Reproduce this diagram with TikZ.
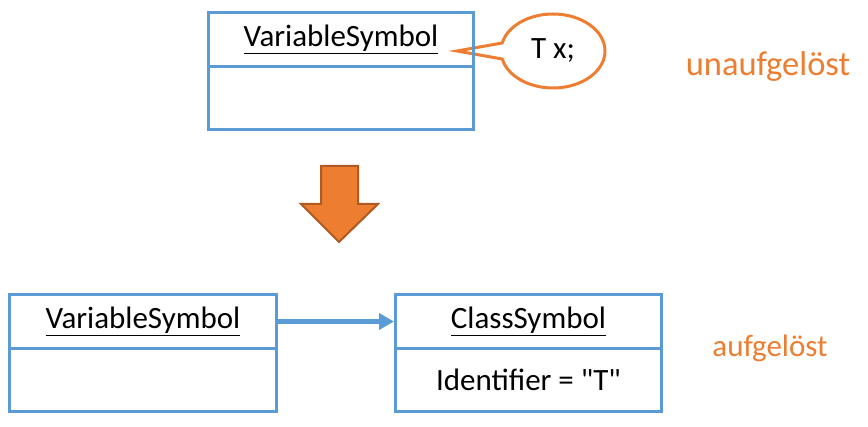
\documentclass[tikz,border=0pt]{standalone}
\usepackage{fontspec}
\setmainfont{Carlito}
\usetikzlibrary{shapes.callouts,arrows.meta}
\definecolor{umlblue}{HTML}{5B9BD5}
\definecolor{accent}{HTML}{ED7D31}
\definecolor{accentdark}{HTML}{AE5A21}
\begin{document}
\begin{tikzpicture}[x=1pt,y=1pt,
  font=\fontsize{31}{36}\selectfont,
  umlpart/.style={draw=umlblue, line width=3pt, inner sep=0pt, anchor=north west},
  hdr/.style={umlpart, minimum width=#1, minimum height=54pt},
  bdy/.style={umlpart, minimum width=#1, minimum height=63pt},
  note/.style={text=accent}]
\useasboundingbox (0,0) rectangle (868,-427);

% callout (drawn first so box border lies on top)
\coordinate (tip) at (457,-51);
\node[ellipse callout, draw=accent, line width=3pt, fill=white,
      minimum width=104pt, minimum height=74pt, inner sep=0pt,
      callout absolute pointer={(tip)}, callout pointer arc=25] (callout) at (553,-51) {T x;};

% top box
\node[hdr=265pt] (v1h) at (207,-11) {\underline{VariableSymbol}};
\node[bdy=265pt] (v1b) at (207,-65) {};

% bottom left box
\node[hdr=267pt] (v2h) at (8,-293) {\underline{VariableSymbol}};
\node[bdy=267pt] (v2b) at (8,-347) {};

% bottom right box
\node[hdr=266pt] (ch) at (394,-293) {\underline{ClassSymbol}};
\node[bdy=266pt] (cb) at (394,-347) {Identifier = \textquotedbl T\textquotedbl};

% connector
\draw[umlblue, line width=4.5pt, -{Triangle[length=15pt,width=16pt]}] (v2h.east) -- (ch.west);

% big down arrow
\filldraw[fill=accent, draw=accentdark, line width=2pt, line join=miter]
  (321,-166) -- (358,-166) -- (358,-204) -- (378,-204) -- (339,-242)
  -- (301,-204) -- (321,-204) -- cycle;

% labels
\node[note, font=\fontsize{34.5}{40}\selectfont] (unres) at (768,-66) {unaufgelöst};
\node[note] (res) at (770,-348) {aufgelöst};
\end{tikzpicture}
\end{document}
